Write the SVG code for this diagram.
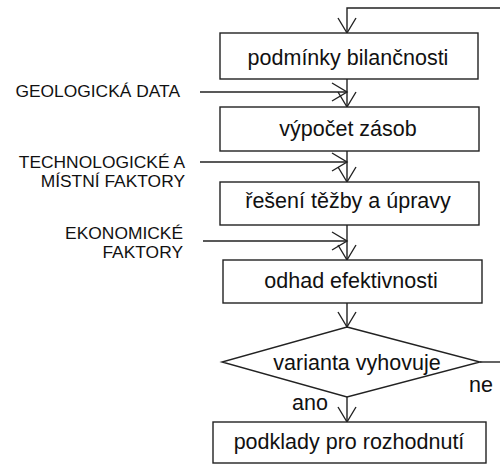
<svg xmlns="http://www.w3.org/2000/svg" width="500" height="464" viewBox="0 0 500 464">
<style>
.box{fill:#fff;stroke:#222;stroke-width:1.4}
.t{font-family:"Liberation Sans",Arial,sans-serif;font-size:21.5px;fill:#111;text-anchor:middle}
.l{font-family:"Liberation Sans",Arial,sans-serif;font-size:17.4px;fill:#111;text-anchor:end}
.c{fill:none;stroke:#222;stroke-width:1.4}
.a{marker-end:url(#v)}
</style>
<defs>
<marker id="v" markerUnits="userSpaceOnUse" viewBox="0 0 18 20" refX="16" refY="10" markerWidth="18" markerHeight="20" orient="auto">
<path d="M1,1 L16,10 L1,19" fill="none" stroke="#222" stroke-width="1.4"/>
</marker>
</defs>
<rect width="500" height="464" fill="#fff"/>
<g id="connectors">
<path class="c a" d="M500,8 H347 V33"/>
<path class="c a" d="M347,79 V107"/>
<path class="c a" d="M347,151 V182"/>
<path class="c a" d="M347,225 V260"/>
<path class="c a" d="M347,303 V327"/>
<path class="c a" d="M347,397 V422"/>
<path class="c a" d="M200,92 H347"/>
<path class="c a" d="M200,162 H347"/>
<path class="c a" d="M203,241 H347"/>
<path class="c" d="M480,362 H500"/>
<text class="t" x="481" y="392">ne</text>
<text class="t" x="310" y="410">ano</text>
</g>
<g id="n1"><rect class="box" x="220" y="33" width="258" height="46"/><text class="t" x="348" y="65">podmínky bilančnosti</text></g>
<g id="n2"><rect class="box" x="220" y="107" width="259" height="44"/><text class="t" x="348" y="136">výpočet zásob</text></g>
<g id="n3"><rect class="box" x="220" y="182" width="259" height="43"/><text class="t" x="348" y="208">řešení těžby a úpravy</text></g>
<g id="n4"><rect class="box" x="223" y="260" width="259" height="43"/><text class="t" x="351" y="288">odhad efektivnosti</text></g>
<g id="n5"><polygon class="box" points="347,327 480,362 347,397 222,362"/><text class="t" x="357" y="370">varianta vyhovuje</text></g>
<g id="n6"><rect class="box" x="213" y="422" width="273" height="41"/><text class="t" x="349" y="449">podklady pro rozhodnutí</text></g>
<g id="inputs">
<text class="l" x="180" y="97">GEOLOGICKÁ DATA</text>
<text class="l" x="185" y="168">TECHNOLOGICKÉ A</text>
<text class="l" x="185" y="187">MÍSTNÍ FAKTORY</text>
<text class="l" x="183" y="239">EKONOMICKÉ</text>
<text class="l" x="183" y="258">FAKTORY</text>
</g>
</svg>
